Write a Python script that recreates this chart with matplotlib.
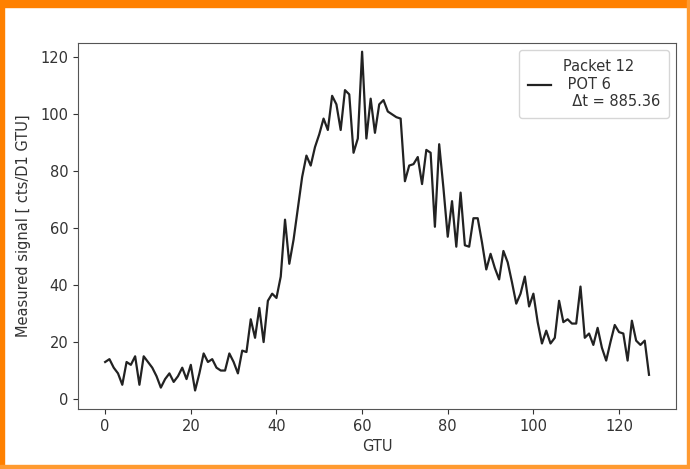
import numpy as np
import matplotlib.pyplot as plt
from matplotlib.patches import Rectangle

# signal per GTU
signal = [13, 14, 11, 9, 5, 13, 12, 15, 5, 15,
          13, 11, 8, 4, 7, 9, 6, 8, 11, 7,
          12, 3, 9, 16, 13, 14, 11, 10, 10, 16,
          13, 9, 17, 16.5, 28, 21.5, 32, 20, 34.5, 37,
          35.5, 43, 63, 47.5, 56, 67, 78, 85.5, 82, 88.5,
          93, 98.5, 94.5, 106.5, 103.5, 94.5, 108.5, 107, 86.5, 91.5,
          122, 91.5, 105.5, 93.5, 103.5, 105, 101, 100, 99, 98.5,
          76.5, 82, 82.5, 85, 75.5, 87.5, 86.5, 60.5, 89.5, 74,
          57, 69.5, 53.5, 72.5, 54, 53.5, 63.5, 63.5, 55, 45.5,
          51, 46, 42, 52, 48, 41, 33.5, 37, 43, 32.5,
          37, 27, 19.5, 24, 19.5, 21.5, 34.5, 27, 28, 26.5,
          26.5, 39.5, 21.5, 23, 19, 25, 18, 13.5, 20, 26,
          23.5, 23, 13.5, 27.5, 20.5, 19, 20.5, 8.5]
gtu = np.arange(len(signal))

packet = 12
pot = 6
dt = 885.36

fig = plt.figure(figsize=(6.9, 4.69), dpi=100)
ax = fig.add_axes([0.113, 0.128, 0.867, 0.78])

ax.plot(gtu, signal, color='#222222', lw=1.6,
        label='Packet %d\n POT %d\n  Δt = %.2f' % (packet, pot, dt))
ax.set_ylim(-3.5, 125)
ax.set_xlabel('GTU', fontsize=10.5, color='#333333')
ax.set_ylabel('Measured signal [ cts/D1 GTU]', fontsize=10.5, color='#333333', labelpad=7)
ax.tick_params(labelsize=10.5, colors='#333333')
for s in ax.spines.values():
    s.set_color('#555555')
ax.legend(loc='upper right', fontsize=10.5, handlelength=1.6, labelcolor='#333333',
          borderpad=0.6)

# orange frame round the picture
fig.patches.append(Rectangle((0, 0.986), 1, 0.014, transform=fig.transFigure,
                             color='#ff8000', zorder=10))
fig.patches.append(Rectangle((0, 0), 0.006, 1, transform=fig.transFigure,
                             color='#ff8000', zorder=10))
fig.patches.append(Rectangle((0, 0), 1, 0.008, transform=fig.transFigure,
                             color='#ff9a30', zorder=10))
fig.patches.append(Rectangle((0.995, 0), 0.005, 1, transform=fig.transFigure,
                             color='#ff9a30', zorder=10))

fig.savefig('out.png', dpi=100)
